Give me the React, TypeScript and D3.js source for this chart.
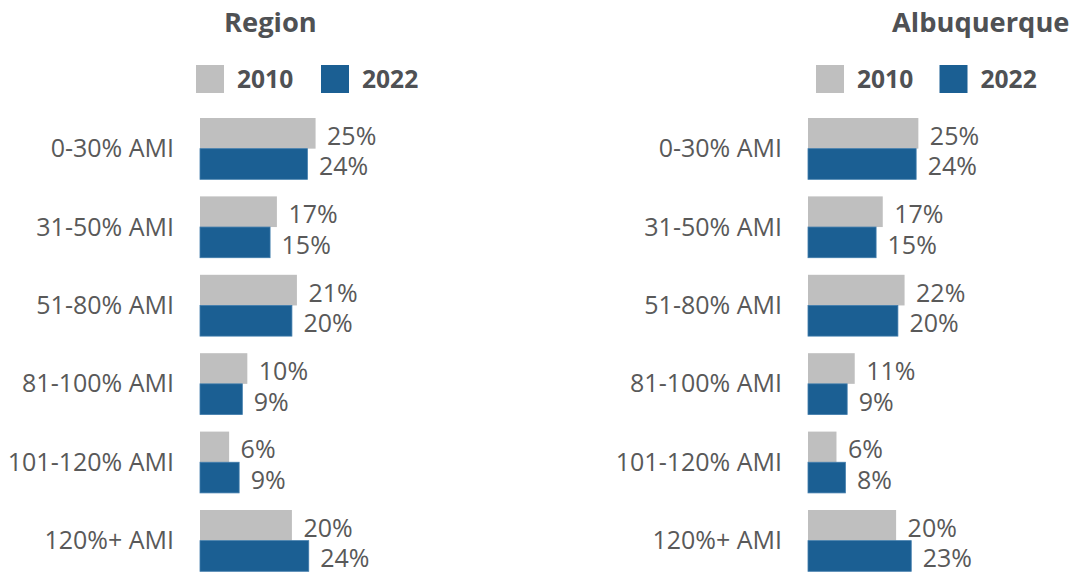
import React from "react";
import * as d3 from "d3";

const categories = ["0-30% AMI", "31-50% AMI", "51-80% AMI", "81-100% AMI", "101-120% AMI", "120%+ AMI"];
const seriesNames = ["2010", "2022"];
const regionValues2010 = [25.4, 16.9, 21.3, 10.4, 6.4, 20.2];
const regionValues2022 = [23.6, 15.4, 20.2, 9.3, 8.6, 23.9];
const abqValues2010 = [24.8, 16.8, 21.7, 10.5, 6.4, 19.8];
const abqValues2022 = [24.3, 15.3, 20.2, 8.8, 8.4, 23.2];
const panelTitles = ["Region", "Albuquerque"];

const colors = ["#BFBFBF", "#1B5F93"];
const textColor = "#595959";
const font = "'Open Sans', 'Noto Sans', sans-serif";

type PanelProps = {
  title: string;
  values: number[][];
  barX: number;
  labelRight: number;
  pxPerUnit: number;
  titleX: number;
  legendX: number[];
};

function Panel({ title, values, barX, labelRight, pxPerUnit, titleX, legendX }: PanelProps) {
  const x = d3.scaleLinear().domain([0, 30]).range([barX, barX + 30 * pxPerUnit]);
  const y = d3.scaleBand<string>().domain(categories).range([118, 571.3]).paddingInner(0.218).paddingOuter(0);
  const inner = d3.scaleBand<string>().domain(seriesNames).range([0, y.bandwidth()]).padding(0);

  return (
    <g>
      <text x={titleX} y={32} fontFamily={font} fontWeight={700} fontSize={27.3} fill="#4f5154">
        {title}
      </text>
      {seriesNames.map((s, i) => (
        <g key={s}>
          <rect x={legendX[i]} y={65} width={28} height={28} fill={colors[i]} />
          <text x={legendX[i] + 41} y={88} fontFamily={font} fontWeight={700} fontSize={24.6} fill="#4f5154">
            {s}
          </text>
        </g>
      ))}
      {categories.map((c, ci) => (
        <g key={c}>
          <text
            x={labelRight}
            y={(y(c) as number) + y.bandwidth() / 2 + 8.5}
            textAnchor="end"
            fontFamily={font}
            fontSize={25}
            fill={textColor}
          >
            {c}
          </text>
          {seriesNames.map((s, si) => {
            const v = values[si][ci];
            const by = (y(c) as number) + (inner(s) as number);
            const bh = inner.bandwidth();
            return (
              <g key={s}>
                <rect
                  x={x(0)}
                  y={by}
                  width={x(v) - x(0)}
                  height={bh}
                  fill={colors[si]}
                  stroke={si === 1 ? "#3f7bab" : "none"}
                  strokeWidth={si === 1 ? 0.8 : 0}
                />
                <text
                  x={x(v) + 11.5}
                  y={by + bh / 2 + 11.5}
                  fontFamily={font}
                  fontSize={25}
                  fill={textColor}
                >
                  {Math.round(v) + "%"}
                </text>
              </g>
            );
          })}
        </g>
      ))}
    </g>
  );
}

export default function App() {
  return (
    <svg
      width={1074}
      height={574}
      style={{ position: "absolute", left: 0, top: 0, background: "#fff" }}
    >
      <Panel
        title={panelTitles[0]}
        values={[regionValues2010, regionValues2022]}
        barX={200}
        labelRight={174}
        pxPerUnit={4.55}
        titleX={224}
        legendX={[196, 321]}
      />
      <Panel
        title={panelTitles[1]}
        values={[abqValues2010, abqValues2022]}
        barX={808}
        labelRight={782}
        pxPerUnit={4.45}
        titleX={892}
        legendX={[816, 939.5]}
      />
    </svg>
  );
}
